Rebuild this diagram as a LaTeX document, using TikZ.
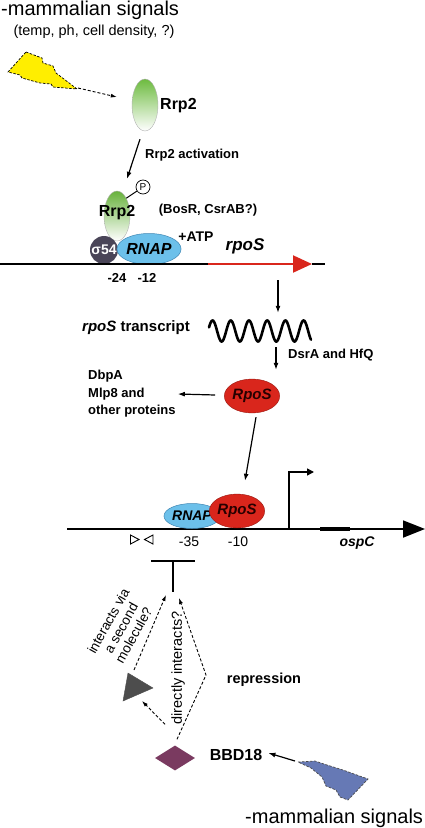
\documentclass[tikz,border=0pt]{standalone}
\usepackage{fontspec}
\setmainfont{Liberation Sans}
\usetikzlibrary{arrows.meta,shapes.geometric,calc}
\definecolor{ylw}{HTML}{FFEE00}
\definecolor{rrpg}{HTML}{6DBB3F}
\definecolor{sigc}{HTML}{4A4558}
\definecolor{rnapc}{HTML}{6CC0EA}
\definecolor{rnapd}{HTML}{3F86B3}
\definecolor{redc}{HTML}{D9261C}
\definecolor{redd}{HTML}{9A1A12}
\definecolor{trig}{HTML}{4D4D4D}
\definecolor{diac}{HTML}{7A3A60}
\definecolor{bluc}{HTML}{6679B5}
\newcommand\fsz[2]{\fontsize{#1}{#2}\selectfont}
\begin{document}
\begin{tikzpicture}[x=1pt,y=-1pt,
  arr/.style={-{Latex[length=7pt,width=5pt]}, line width=1.2pt},
  darr/.style={-{Latex[length=6pt,width=4pt]}, dash pattern=on 3pt off 2pt, line width=0.9pt},
  rrp/.style={ellipse, draw=gray!60, line width=0.4pt, top color=rrpg, bottom color=white, inner sep=0pt},
  lbl/.style={inner sep=0pt, font=\fsz{13}{15}\bfseries},
  reg/.style={inner sep=0pt, font=\fsz{14}{16}},
  ital/.style={inner sep=0pt, font=\fsz{15}{17}\bfseries\itshape}
]
\useasboundingbox (0,0) rectangle (425,828);

% top texts
\node[anchor=base west, inner sep=0pt, font=\fsz{20}{24}] (ms1) at (1,15) {-mammalian signals};
\node[inner sep=0pt, font=\fsz{14.5}{17}] (cond) at (94,32) {(temp, ph, cell density, ?)};

% yellow lightning
\draw[black, dash pattern=on 2.5pt off 1.5pt, line width=0.7pt, fill=ylw]
  (26,52) -- (42,58) -- (43,63) -- (53,66) -- (56,73) -- (77,89) -- (53,87) -- (51,84)
  -- (40,83) -- (22,78) -- (20,75) -- (8,72) -- cycle;
\coordinate (ytip) at (78,88);

% Rrp2 top
\node[rrp, minimum width=26pt, minimum height=52pt] (rrp2a) at (145,105) {};
\node[anchor=west, inner sep=0pt, font=\fsz{16}{18}\bfseries] (rrp2alab) at (160,106) {Rrp2};
\draw[darr] (ytip) -- ($(rrp2a.west)+(-15,-8)$);

% Rrp2 phosphorylated
\node[rrp, top color=rrpg!95!black, minimum width=26pt, minimum height=50pt] (rrp2b) at (117,216) {};
\draw[arr] ($(rrp2a.south)+(-5,8)$) -- ($(rrp2b.north)+(10,-12)$);
\node[lbl, anchor=west] (act) at (145,155) {Rrp2 activation};
\node[circle, draw, line width=0.7pt, minimum size=14pt, inner sep=0pt, fill=white, font=\fsz{10}{10}] (P) at (143,187) {P};
\draw[line width=1pt] (rrp2b.north east) -- (P);

% sigma54 and RNAP
\node[circle, fill=sigc, minimum size=28pt, inner sep=0pt, text=white, font=\fsz{14}{16}\bfseries] (sig) at (104,250) {σ54};
\node[ellipse, fill=rnapc, draw=rnapd, line width=0.5pt, minimum width=59pt, minimum height=31pt, inner sep=0pt, font=\fsz{16}{18}\bfseries\itshape] (rnap1) at (149,249) {RNAP};
\node[inner sep=0pt, font=\fsz{16}{18}\bfseries] (rrp2blab) at (117,213) {Rrp2};

\node[lbl] (bosr) at (208,210) {(BosR, CsrAB?)};
\node[inner sep=0pt, font=\fsz{14}{16}\bfseries] (atp) at (196,237) {+ATP};
\node[inner sep=0pt, font=\fsz{17}{19}\bfseries\itshape] (rpos1) at (245,246) {rpoS};

% top DNA
\coordinate (d1a) at (0,264);
\coordinate (d1b) at (208,264);
\coordinate (d1c) at (312,264);
\coordinate (d1d) at (325,264);
\draw[line width=1.5pt] (d1a) -- (d1b);
\draw[line width=1.5pt] (d1c) -- (d1d);
\draw[redc, line width=2pt, -{Triangle[length=19pt,width=17pt]}] (d1b) -- (d1c);
\node[lbl] (m24) at (117,278) {-24};
\node[lbl] (m12) at (147,278) {-12};

% transcript
\coordinate (tr1) at (278,280);
\node[inner sep=0pt, minimum width=104pt, minimum height=26pt] (wave) at (260,331) {};
\draw[arr] (tr1) -- ($(wave.north)+(18,-5)$);
\draw[line width=2.6pt, line cap=round] plot[domain=0:102, samples=220] ({209+\x},{331 + 10.5*sin(\x/102*5.6*360 + 200)});
\node[inner sep=0pt, font=\fsz{15}{17}\bfseries] (trl) at (136,328) {\itshape rpoS\upshape{} transcript};

% RpoS upper
\node[ellipse, fill=redc, draw=redd, line width=0.4pt, minimum width=46pt, minimum height=34pt, inner sep=0pt, text=black!85!red, font=\fsz{15}{17}\bfseries\itshape] (rposa) at (252,396) {RpoS};
\draw[arr] ($(wave.south)+(16,3)$) -- ($(rposa.north)+(24,-9)$);
\node[lbl, anchor=west] (dsra) at (288,355) {DsrA and HfQ};
\node[lbl, anchor=west, align=left, font=\fsz{13}{17.5}\bfseries] (prot) at (88,394) {DbpA\\Mlp8 and\\other proteins};
\draw[arr] ($(rposa.west)+(-9,-1)$) -- ($(prot.east)+(2,0)$);

% lower DNA
\coordinate (d2a) at (67,529);
\coordinate (d2b) at (425,529);
\coordinate (d2c) at (320,529);
\coordinate (d2d) at (350,529);
\draw[line width=1.8pt, -{Triangle[length=22pt,width=17pt]}] (d2a) -- (d2b);
\draw[line width=3.2pt] (d2c) -- (d2d);

\node[ellipse, fill=rnapc, draw=rnapd, line width=0.5pt, minimum width=50pt, minimum height=25pt, inner sep=0pt, font=\fsz{14}{16}\bfseries\itshape] (rnap2) at (192,516) {RNAP};
\node[ellipse, fill=redc, draw=redd, line width=0.4pt, minimum width=45pt, minimum height=34pt, inner sep=0pt, text=black!85!red, font=\fsz{15}{17}\bfseries\itshape] (rposb) at (237,511) {RpoS};
\draw[arr] ($(rposa.south)+(4,4)$) -- ($(rposb.north)+(8,-13)$);

% promoter arrow
\coordinate (pr0) at (289,529);
\coordinate (pr1) at (289,472);
\coordinate (pr2) at (314,472);
\draw[line width=1.5pt, -{Triangle[length=7pt,width=7pt]}] (pr0) -- (pr1) -- (pr2);

% operator triangles
\draw[line width=0.9pt] (130.5,535) -- (130.5,544) -- (139,539.5) -- cycle;
\draw[line width=0.9pt] (153,535) -- (153,544) -- (144.5,539.5) -- cycle;

\node[reg] (m35) at (189,542) {-35};
\node[reg] (m10) at (238,542) {-10};
\node[inner sep=0pt, font=\fsz{14}{16}\bfseries\itshape] (ospc) at (357,543) {ospC};

% repression bar
\coordinate (tb1) at (151,561);
\coordinate (tb2) at (195,561);
\coordinate (tbt) at (173,561);
\coordinate (tbb) at (173,592);
\draw[line width=1.5pt] (tb1) -- (tb2);
\draw[line width=1.5pt] (tbt) -- (tbb);

% second molecule triangle
\draw[fill=trig, draw=trig] (128,673) -- (153,688) -- (123,701) -- cycle;
\coordinate (trtop) at (134,670);
\coordinate (trbot) at (142,701);

% BBD18 diamond
\node[diamond, fill=diac, minimum width=40pt, minimum height=25pt, inner sep=0pt] (bbd) at (175,758) {};
\coordinate (bend) at (206,675);
\draw[darr] ($(bbd.north)+(-10,-21)$) -- (trbot);
\draw[darr] (trtop) -- ($(tbb)+(-7,3)$);
\draw[darr] ($(bbd.north)+(2,-6)$) -- (bend) -- ($(tbb)+(6,6)$);

\node[inner sep=0pt, font=\fsz{13.5}{14.5}, rotate=61, align=center] (ivia) at (121,628) {interacts via\\a second\\molecule?};
\node[inner sep=0pt, font=\fsz{14.5}{16}, rotate=90] (direct) at (178,668) {directly interacts?};
\node[inner sep=0pt, font=\fsz{14.5}{16}\bfseries] (repr) at (264,680) {repression};
\node[inner sep=0pt, font=\fsz{16}{18}\bfseries] (bbdl) at (236,755) {BBD18};

% blue lightning
\draw[black!70, dash pattern=on 2.5pt off 1.5pt, line width=0.7pt, fill=bluc]
  (298,762) -- (315,761) -- (327,765) -- (343,770) -- (368,779) -- (348,800) -- (340,797)
  -- (336,790) -- (326,786) -- (322,777) -- (311,768) -- cycle;
\coordinate (btip) at (295,761);
\draw[arr] (btip) -- ($(bbdl.east)+(6,-2)$);

\node[anchor=base west, inner sep=0pt, font=\fsz{20}{24}] (ms2) at (245,823) {-mammalian signals};
\end{tikzpicture}
\end{document}
